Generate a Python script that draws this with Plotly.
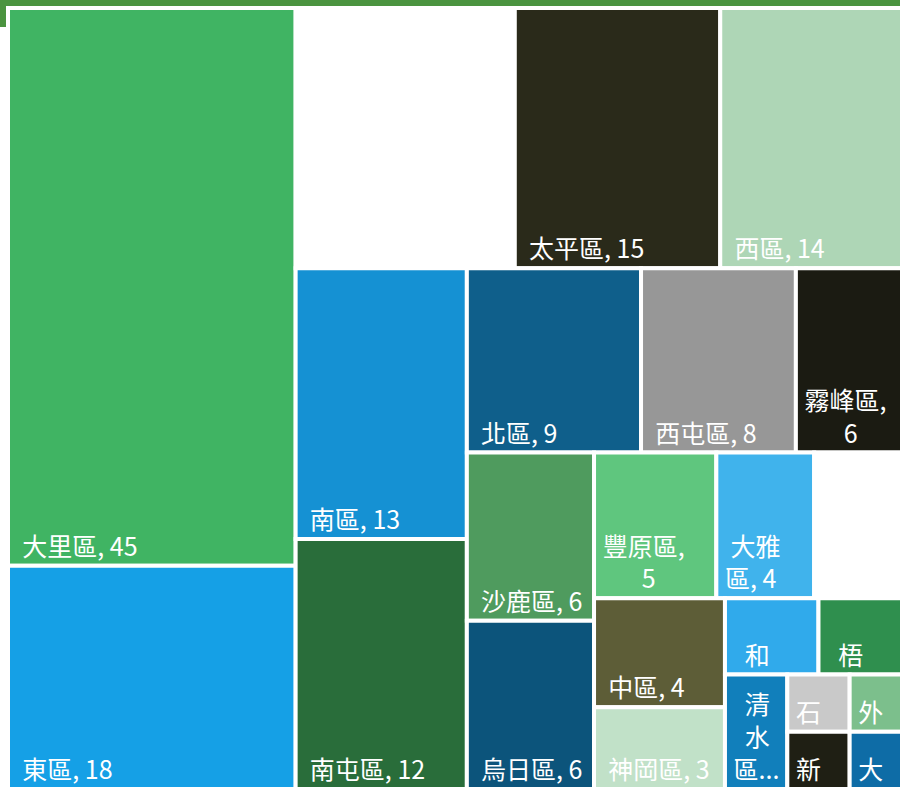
import plotly.graph_objects as go

labels = ["大里區", "東區", "北屯區", "太平區", "西區", "南區", "南屯區", "北區", "西屯區",
          "霧峰區", "沙鹿區", "烏日區", "豐原區", "大雅區", "潭子區", "中區", "神岡區",
          "和平區", "梧棲區", "清水區", "石岡區", "新社區", "外埔區", "大甲區"]
values = [45, 18, 16, 15, 14, 13, 12, 9, 8, 6, 6, 6, 5, 4, 4, 4, 3, 2, 2, 2, 1, 1, 1, 1]
colors = ["#40b463", "#15a0e6", "#ffffff", "#2a2a1a", "#aed6b6", "#1591d3", "#296d3a",
          "#0f5f8b", "#979797", "#1b1b12", "#4f9b5e", "#0c547b", "#5fc67e", "#40b3ec",
          "#ffffff", "#5d5d37", "#c1e1c8", "#30aaeb", "#2f8f4e", "#117fbb", "#c9c9c9",
          "#1f1f14", "#7cbf8c", "#0e6ca6"]
N = "\u00a0"
shown = [N * 2 + "大里區, 45", N * 2 + "東區, 18", N * 2 + "北屯區, 16", N * 2 + "太平區, 15",
         N * 2 + "西區, 14", N * 2 + "南區, 13", N * 2 + "南屯區, 12", N * 2 + "北區, 9",
         N * 2 + "西屯區, 8",
         N + "霧峰區,<br>" + N * 8 + "6",
         N * 2 + "沙鹿區, 6", N * 2 + "烏日區, 6",
         N + "豐原區,<br>" + N * 8 + "5",
         N * 2 + "大雅<br>" + N + "區, 4", N * 2 + "潭子<br>" + N + "區, 4", N * 2 + "中區, 4",
         N * 2 + "神岡區, 3",
         N * 3 + "和", N * 3 + "梧",
         N * 3 + "清<br>" + N * 3 + "水<br>" + N + "區...", N + "石", N + "新", N + "外", N + "大"]

fig = go.Figure(go.Treemap(
    ids=labels,
    labels=labels,
    parents=[""] * len(labels),
    values=values,
    text=shown,
    texttemplate="%{text}",
    hovertemplate="%{label}: %{value}<extra></extra>",
    textposition="bottom left",
    textfont=dict(size=25, color="#ffffff", family="Noto Sans CJK TC"),
    marker=dict(colors=colors, line=dict(color="#ffffff", width=4),
                pad=dict(t=0, l=0, r=0, b=0)),
    tiling=dict(packing="squarify", squarifyratio=1, pad=0),
    pathbar=dict(visible=False),
    sort=True,
))

W, H = 912, 789
ml, mt = 8, 8
pw, ph = W - ml, H - mt
green = "#4b9440"
fig.add_shape(type="rect", xref="paper", yref="paper",
              x0=-ml / pw, x1=1, y0=1, y1=1 + mt / ph,
              fillcolor=green, line=dict(width=0), layer="below")
fig.add_shape(type="rect", xref="paper", yref="paper",
              x0=-ml / pw, x1=0, y0=1 - 19 / ph, y1=1 + mt / ph,
              fillcolor=green, line=dict(width=0), layer="below")

fig.update_layout(
    width=W, height=H,
    margin=dict(l=ml, r=0, t=mt, b=0),
    paper_bgcolor="#ffffff",
    plot_bgcolor="#ffffff",
    showlegend=False,
)

fig.write_html(
    "out.html",
    config={"displayModeBar": False},
    post_script=("document.body.style.margin='0';"
                 "document.body.style.overflow='hidden';"
                 "document.documentElement.style.overflow='hidden';"),
)
